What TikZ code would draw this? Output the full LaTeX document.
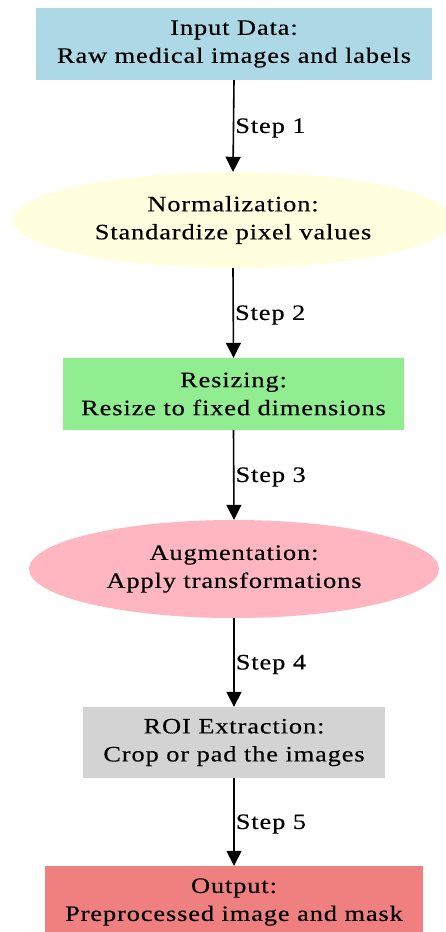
\documentclass[tikz,border=0pt]{standalone}
\usepackage{fontspec}
\setmainfont{Liberation Serif}[FakeStretch=1.2, LetterSpace=4, FakeBold=0.3]
\usetikzlibrary{arrows.meta,shapes.geometric}
\definecolor{cblue}{HTML}{ADD8E6}
\definecolor{cyellow}{HTML}{FFFFE0}
\definecolor{cgreen}{HTML}{90EE90}
\definecolor{cpink}{HTML}{FFB6C1}
\definecolor{cgray}{HTML}{D3D3D3}
\definecolor{ccoral}{HTML}{F08080}
\begin{document}
\begin{tikzpicture}[x=1pt,y=-1pt,
  txt/.style={font=\fontsize{22}{28}\selectfont, align=center, text=black},
  boxnode/.style={txt, rectangle, inner sep=0pt},
  ellnode/.style={txt, ellipse, inner sep=0pt},
  conn/.style={line width=1.6pt, -{Triangle[length=15pt,width=15pt]}},
  steplabel/.style={txt, anchor=west, inner sep=1pt}]
\fill[white] (0,0) rectangle (446,932);
\useasboundingbox (0,0) rectangle (446,932);
\node[boxnode, fill=cblue, minimum width=396pt, minimum height=72pt] (in) at (234,44) {Input Data:\\Raw medical images and labels};
\node[ellnode, fill=cyellow, minimum width=440pt, minimum height=96pt] (norm) at (233,220) {Normalization:\\Standardize pixel values};
\node[boxnode, fill=cgreen, minimum width=341pt, minimum height=72pt] (res) at (233.5,394) {Resizing:\\Resize to fixed dimensions};
\node[ellnode, fill=cpink, minimum width=410pt, minimum height=98pt] (aug) at (234,569) {Augmentation:\\Apply transformations};
\node[boxnode, fill=cgray, minimum width=302pt, minimum height=71pt] (roi) at (234,742.5) {ROI Extraction:\\Crop or pad the images};
\node[boxnode, fill=ccoral, minimum width=378pt, minimum height=72pt] (out) at (234,902) {Output:\\Preprocessed image and mask};
\draw[conn] (in.south) -- (norm.north) node[midway, steplabel, yshift=-2pt] {Step 1};
\draw[conn] (norm.south) -- (res.north) node[midway, steplabel, yshift=-2pt] {Step 2};
\draw[conn] (res.south) -- (aug.north) node[midway, steplabel, yshift=-2pt] {Step 3};
\draw[conn] (aug.south) -- (roi.north) node[midway, steplabel, yshift=-2pt] {Step 4};
\draw[conn] (roi.south) -- (out.north) node[midway, steplabel, yshift=-2pt] {Step 5};
\end{tikzpicture}
\end{document}
